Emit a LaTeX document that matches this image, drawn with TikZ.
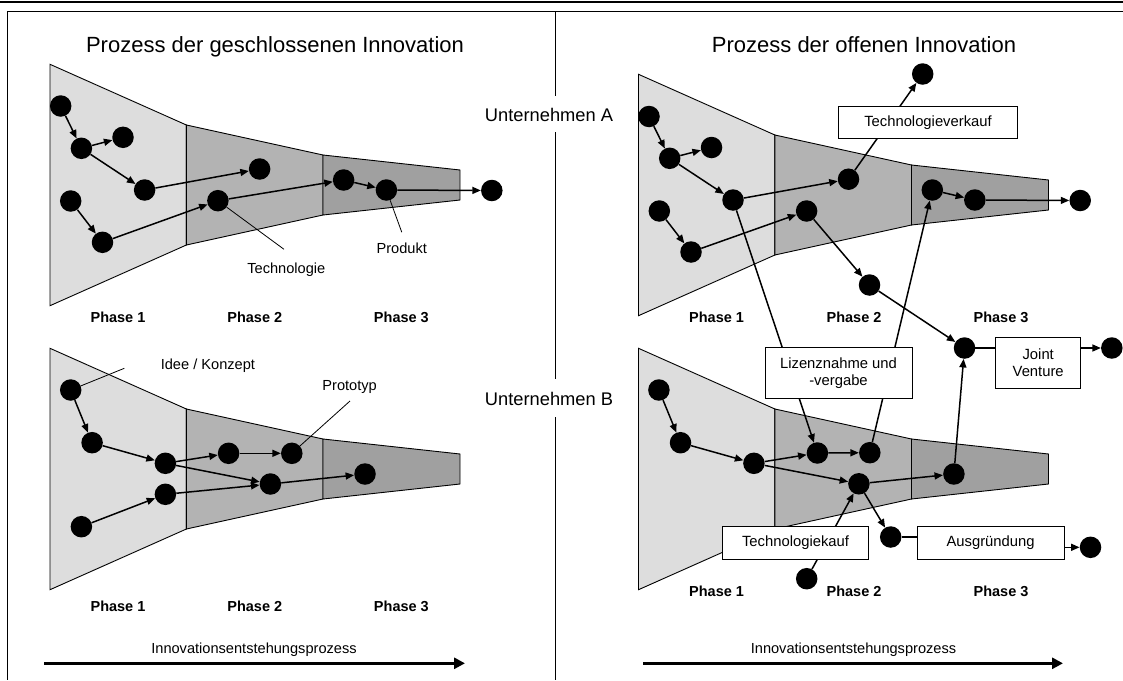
\documentclass[tikz,border=0pt]{standalone}
\usepackage{fontspec}
\setmainfont{Liberation Sans}
\usetikzlibrary{arrows.meta}
\definecolor{gA}{HTML}{DDDDDD}
\definecolor{gB}{HTML}{B3B3B3}
\definecolor{gC}{HTML}{A0A0A0}
\newcommand{\myfunnel}[2]{%
  \begin{scope}[shift={(#1,#2)}]
    \draw[fz, fill=gA] (50,64.3) -- (186.4,125) -- (186.4,245) -- (50,305.7) -- cycle;
    \draw[fz, fill=gB] (186.4,125) -- (323,155) -- (323,215) -- (186.4,245) -- cycle;
    \draw[fz, fill=gC] (323,155) -- (460,170) -- (460,200) -- (323,215) -- cycle;
  \end{scope}}
\tikzset{
  fz/.style={draw=black, line width=0.9pt, line join=miter},
  dot/.style={circle, fill=black, draw=none, inner sep=0pt, minimum size=21.5pt},
  arr/.style={line width=1.5pt, -{Triangle[length=8.5pt,width=7pt]}},
  con/.style={line width=1.5pt},
  lead/.style={line width=0.8pt},
  bigarr/.style={line width=3pt, -{Triangle[length=11pt,width=11pt]}},
  lbl/.style={font=\fontsize{14.6}{17}\selectfont, inner sep=0pt, anchor=base},
  phl/.style={font=\bfseries\fontsize{14.5}{17}\selectfont, inner sep=0pt, anchor=base},
  ttl/.style={font=\fontsize{22}{26}\selectfont, inner sep=0pt, anchor=base},
  unt/.style={font=\fontsize{18.3}{22}\selectfont, inner sep=0pt, anchor=base},
  box/.style={draw=black, fill=white, line width=0.9pt, inner sep=0pt, align=center,
              font=\fontsize{14.8}{17}\selectfont},
}
\begin{document}
\begin{tikzpicture}[x=1pt,y=-1pt]
\useasboundingbox (0,0) rectangle (1123,680);
% frame
\draw[line width=2pt] (0,1.5) -- (1123,1.5);
\draw[line width=1pt] (1123,11.5) -- (7.5,11.5) -- (7.5,680);
\draw[line width=1pt] (555,11.5) -- (555,96);
\draw[line width=1pt] (555,132) -- (555,379);
\draw[line width=1pt] (555,417) -- (555,680);
\node[unt] (ua) at (549,121.5) {Unternehmen A};
\node[unt] (ub) at (549,405) {Unternehmen B};
% titles
\node[ttl] (t1) at (275,52) {Prozess der geschlossenen Innovation};
\node[ttl] (t2) at (864,52) {Prozess der offenen Innovation};
% funnels
\myfunnel{0}{0}
\myfunnel{0}{284}
\myfunnel{588.5}{10}
\myfunnel{588.5}{284}
% phase labels
\node[phl] (p11) at (118,322.5) {Phase 1};
\node[phl] (p12) at (254.8,322.5) {Phase 2};
\node[phl] (p13) at (401.4,322.5) {Phase 3};
\node[phl] (p21) at (118,611.5) {Phase 1};
\node[phl] (p22) at (254.8,611.5) {Phase 2};
\node[phl] (p23) at (401.4,611.5) {Phase 3};
\node[phl] (p31) at (716.6,322.5) {Phase 1};
\node[phl] (p32) at (854,322.5) {Phase 2};
\node[phl] (p33) at (1001,322.5) {Phase 3};
\node[phl] (p41) at (716.6,596) {Phase 1};
\node[phl] (p42) at (854,596) {Phase 2};
\node[phl] (p43) at (1001,596) {Phase 3};
% process arrows
\node[lbl] (ip1) at (254,653) {Innovationsentstehungsprozess};
\node[lbl] (ip2) at (853.5,653) {Innovationsentstehungsprozess};
\coordinate (ia1) at (44,663.3);
\coordinate (ib1) at (465,663.3);
\coordinate (ia2) at (643,663.3);
\coordinate (ib2) at (1063,663.3);
\draw[bigarr] (ia1) -- (ib1);
\draw[bigarr] (ia2) -- (ib2);
% ---- closed innovation, top
\node[dot] (n1) at (60.7,106) {};
\node[dot] (n2) at (81.4,148.3) {};
\node[dot] (n3) at (123,137.3) {};
\node[dot] (n4) at (144.6,190) {};
\node[dot] (n5) at (70.7,201) {};
\node[dot] (n6) at (102.5,242.3) {};
\node[dot] (n7) at (259.6,169) {};
\node[dot] (n8) at (217.9,200.7) {};
\node[dot] (n9) at (343.6,180) {};
\node[dot] (n10) at (386.4,190) {};
\node[dot] (n11) at (491.8,190.5) {};
\draw[arr] (n1) -- (n2);
\draw[arr] (n2) -- (n3);
\draw[arr] (n2) -- (n4);
\draw[arr] (n5) -- (n6);
\draw[arr] (n4) -- (n7);
\draw[arr] (n6) -- (n8);
\draw[arr] (n8) -- (n9);
\draw[arr] (n9) -- (n10);
\draw[arr] (n10) -- (n11);
\coordinate (techEnd) at (284,249.3);
\coordinate (prodEnd) at (401.8,232.3);
\draw[lead] (n8) -- (techEnd);
\draw[lead] (n10) -- (prodEnd);
\node[lbl] (tech) at (286.3,273) {Technologie};
\node[lbl] (prod) at (401.8,253.3) {Produkt};
% ---- closed innovation, bottom
\node[dot] (m1) at (70.7,390) {};
\node[dot] (m2) at (92.1,442.7) {};
\node[dot] (m3) at (165.4,463.3) {};
\node[dot] (m4) at (228.6,453.3) {};
\node[dot] (m5) at (291.8,453.3) {};
\node[dot] (m6) at (270.4,484) {};
\node[dot] (m7) at (365,474) {};
\node[dot] (m8) at (81.4,526.7) {};
\node[dot] (m9) at (165.4,494.3) {};
\draw[arr] (m1) -- (m2);
\draw[arr] (m2) -- (m3);
\draw[arr] (m3) -- (m4);
\draw[arr] (m4) -- (m5);
\draw[arr] (m3) -- (m6);
\draw[arr] (m8) -- (m9);
\draw[arr] (m9) -- (m6);
\draw[arr] (m6) -- (m7);
\coordinate (ideeEnd) at (124.3,368.3);
\coordinate (protoEnd) at (350,401);
\draw[lead] (m1) -- (ideeEnd);
\draw[lead] (m5) -- (protoEnd);
\node[lbl] (idee) at (207.9,369.5) {Idee / Konzept};
\node[lbl] (proto) at (349.6,390.7) {Prototyp};
% ---- open innovation, top
\node[dot] (a1) at (649,116.5) {};
\node[dot] (a2) at (669.7,158.3) {};
\node[dot] (a3) at (711.5,147.5) {};
\node[dot] (a4) at (733,200) {};
\node[dot] (a5) at (659.3,211) {};
\node[dot] (a6) at (691,252) {};
\node[dot] (a7) at (848.5,179.2) {};
\node[dot] (a8) at (806.6,211) {};
\node[dot] (a9) at (932.3,190) {};
\node[dot] (a10) at (974.8,200) {};
\node[dot] (a11) at (1080.2,200.5) {};
\node[dot] (a12) at (922.7,74) {};
\node[dot] (a13) at (869.5,285) {};
% ---- open innovation, bottom
\node[dot] (b1) at (658.9,390) {};
\node[dot] (b2) at (680.5,442.7) {};
\node[dot] (b3) at (753.9,463.3) {};
\node[dot] (b4) at (817.4,453) {};
\node[dot] (b5) at (869.8,452.7) {};
\node[dot] (b6) at (858.9,483.8) {};
\node[dot] (b7) at (953.9,474) {};
\node[dot] (b8) at (890.7,537) {};
\node[dot] (b9) at (806.7,578.7) {};
\node[dot] (b10) at (1090.5,547.3) {};
\node[dot] (jv) at (964.5,348) {};
\node[dot] (jve) at (1111.8,348) {};
\draw[arr] (a1) -- (a2);
\draw[arr] (a2) -- (a3);
\draw[arr] (a2) -- (a4);
\draw[arr] (a5) -- (a6);
\draw[arr] (a4) -- (a7);
\draw[arr] (a6) -- (a8);
\draw[arr] (a8) -- (a13);
\draw[arr] (a9) -- (a10);
\draw[arr] (a10) -- (a11);
\draw[arr] (a7) -- (a12);
\draw[arr] (a13) -- (jv);
\draw[arr] (a4) -- (b4);
\draw[arr] (b5) -- (a9);
\draw[arr] (b1) -- (b2);
\draw[arr] (b2) -- (b3);
\draw[arr] (b3) -- (b4);
\draw[arr] (b4) -- (b5);
\draw[arr] (b3) -- (b6);
\draw[arr] (b9) -- (b6);
\draw[arr] (b6) -- (b7);
\draw[arr] (b6) -- (b8);
\draw[arr] (b7) -- (jv);
% boxes
\node[box, minimum width=179.5pt, minimum height=32.3pt] (tv) at (928,122.2) {Technologieverkauf};
\node[box, minimum width=147pt, minimum height=51.2pt] (liz) at (838.5,373.1) {Lizenznahme und\\-vergabe};
\node[box, minimum width=85pt, minimum height=51pt] (jvb) at (1038.2,362.8) {Joint\\Venture};
\node[box, minimum width=146pt, minimum height=32.5pt] (tk) at (795.5,543) {Technologiekauf};
\node[box, minimum width=147.3pt, minimum height=32.5pt] (ag) at (990.6,543) {Ausgründung};
\draw[con] (jv) -- (jv -| jvb.west);
\draw[arr] (jvb.east |- jve) -- (jve);
\draw[con] (b8) -- (b8 -| ag.west);
\draw[arr] (ag.east |- b10) -- (b10);
\end{tikzpicture}
\end{document}
